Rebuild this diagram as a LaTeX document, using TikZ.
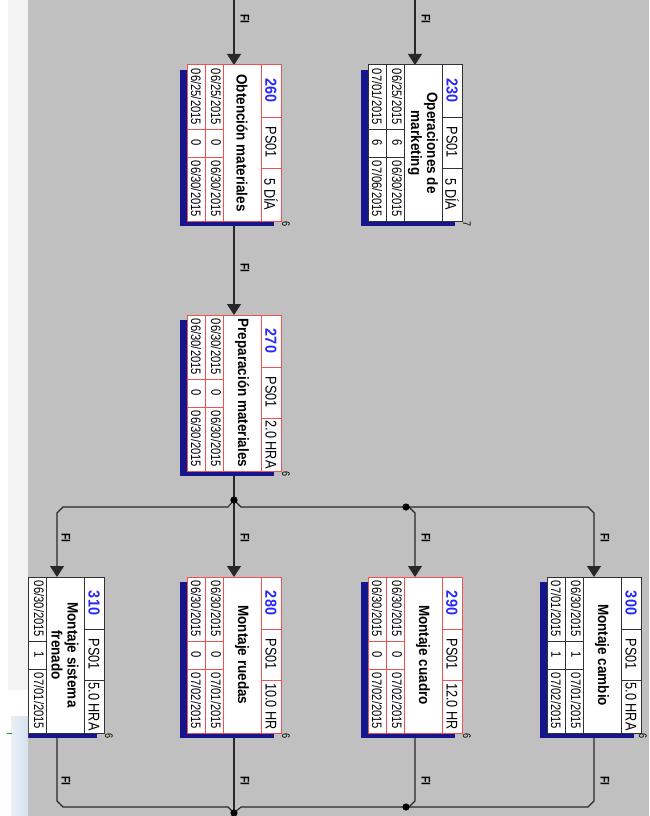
\documentclass[tikz,border=0pt]{standalone}
\usepackage{fontspec}
\setmainfont{Liberation Sans}
\newfontfamily\condA[FakeStretch=0.82]{Liberation Sans}
\newfontfamily\condB[FakeStretch=0.9]{Liberation Sans}
\usetikzlibrary{arrows.meta,calc}
\definecolor{bggray}{RGB}{192,192,192}
\definecolor{shadowc}{RGB}{22,22,140}
\definecolor{critred}{RGB}{236,84,84}
\definecolor{normgray}{RGB}{50,50,50}
\definecolor{idblue}{RGB}{40,40,250}
\definecolor{connc}{RGB}{40,40,40}
\definecolor{panelg}{RGB}{243,243,243}
\definecolor{panelb}{RGB}{212,225,238}
\tikzset{
  x=1pt, y=-1pt,
  rot/.style={rotate=-90, inner sep=0pt, outer sep=0pt, anchor=center},
  datet/.style={rot, font=\condA\fontsize{13.7}{14}\selectfont},
  idt/.style={rot, text=idblue, font=\condB\bfseries\fontsize{16}{16}\selectfont},
  hdt/.style={rot, font=\condA\fontsize{15.5}{16}\selectfont},
  namet/.style={rot, align=center, font=\condB\bfseries\fontsize{15}{16}\selectfont},
  cornt/.style={rot, font=\condA\fontsize{11}{11}\selectfont},
  fit/.style={rot, font=\condA\bfseries\fontsize{12.5}{12.5}\selectfont},
  taskframe/.style={rectangle, fill=white, line width=1pt, minimum width=94pt,
    minimum height=156pt, inner sep=0pt, outer sep=0pt},
  innerline/.style={line width=0.7pt},
  conn/.style={draw=connc, line width=1.1pt},
  arr/.style={-{Triangle[width=14pt,length=11pt]}},
}
% #1 node name, #2 cx, #3 top, #4 colour, #5 id, #6 ps, #7 dur, #8 task name, #9 corner
\newcommand\taskbox[9]{%
  \fill[shadowc] ({#2-54},{#3+5}) rectangle ({#2+40},{#3+161});
  \node[taskframe, draw=#4] (#1) at (#2,{#3+78}) {};
  \draw[innerline, draw=#4] ({#2+27},{#3}) -- ({#2+27},{#3+156});
  \draw[innerline, draw=#4] ({#2-11},{#3}) -- ({#2-11},{#3+156});
  \draw[innerline, draw=#4] ({#2-29},{#3}) -- ({#2-29},{#3+156});
  \draw[innerline, draw=#4] ({#2+27},{#3+52}) -- ({#2+47},{#3+52});
  \draw[innerline, draw=#4] ({#2+27},{#3+103}) -- ({#2+47},{#3+103});
  \draw[innerline, draw=#4] ({#2-47},{#3+64}) -- ({#2-11},{#3+64});
  \draw[innerline, draw=#4] ({#2-47},{#3+92}) -- ({#2-11},{#3+92});
  \node[idt] (#1id) at ({#2+37},{#3+26}) {#5};
  \node[hdt] (#1ps) at ({#2+37},{#3+77.5}) {#6};
  \node[hdt] (#1du) at ({#2+37},{#3+129.5}) {#7};
  \node[namet] (#1nm) at ({#2+8},{#3+78}) {#8};
  \node[cornt] (#1cn) at ({min(#2+52,643)},{#3+159}) {#9};
}
% #1 node name, #2 x, #3 top, #4 #5 #6 texts
\newcommand\taskrow[6]{%
  \node[datet] (#1a) at (#2,{#3+32}) {#4};
  \node[datet] (#1b) at (#2,{#3+78}) {#5};
  \node[datet] (#1c) at (#2,{#3+124}) {#6};
}
\begin{document}
\begin{tikzpicture}
\useasboundingbox (0,0) rectangle (649,816);
\clip (0,0) rectangle (649,816);
\fill[bggray] (0,0) rectangle (649,816);

% ---------- connectors ----------
\coordinate (in260) at (234,-2);
\coordinate (in230) at (415,-2);
\coordinate (j1) at (234,500);
\coordinate (j2) at (406,507);
\coordinate (j3) at (234,813);
\coordinate (j4) at (406,807);
\coordinate (out280) at (234,820);

\draw[conn,arr] (in260) -- (234,65);
\draw[conn,arr] (in230) -- (415,65);
\draw[conn,arr] (234,221) -- (234,315);
\draw[conn,arr] (234,471) -- (234,577);
\draw[conn,arr] (j1) -- (228,507) -- (63,507) -- (57,513) -- (57,577);
\draw[conn] (j1) -- (241,507) -- (j2);
\draw[conn,arr] (j2) -- (588,507) -- (594,513) -- (594,577);
\draw[conn,arr] (j2) -- (409,507) -- (415,513) -- (415,577);

\draw[conn] (57,733) -- (57,801) -- (63,807) -- (228,807) -- (j3);
\draw[conn] (234,733) -- (out280);
\draw[conn] (415,733) -- (415,801) -- (409,807) -- (j4);
\draw[conn] (594,733) -- (594,801) -- (588,807) -- (j4) -- (241,807) -- (j3);

\fill[black] (j1) circle (3.6);
\fill[black] (j2) circle (3.6);
\fill[black] (j3) circle (3.6);
\fill[black] (j4) circle (3.6);

\node[fit] (fi1) at (245,19) {FI};
\node[fit] (fi2) at (426,19) {FI};
\node[fit] (fi3) at (245,268) {FI};
\node[fit] (fi4) at (66,538) {FI};
\node[fit] (fi5) at (245,538) {FI};
\node[fit] (fi6) at (426,538) {FI};
\node[fit] (fi7) at (605,538) {FI};
\node[fit] (fi8) at (66,781) {FI};
\node[fit] (fi9) at (245,781) {FI};
\node[fit] (fi10) at (426,781) {FI};
\node[fit] (fi11) at (605,781) {FI};

% ---------- boxes ----------
\taskbox{b230}{415}{65}{normgray}{230}{PS01}{5 DÍA}{Operaciones de\\marketing}{7}
\taskrow{r230x}{397}{65}{06/25/2015}{6}{06/30/2015}
\taskrow{r230y}{377}{65}{07/01/2015}{6}{07/06/2015}

\taskbox{b260}{234}{65}{critred}{260}{PS01}{5 DÍA}{Obtención materiales}{6}
\taskrow{r260x}{216}{65}{06/25/2015}{0}{06/30/2015}
\taskrow{r260y}{196}{65}{06/25/2015}{0}{06/30/2015}

\taskbox{b270}{234}{315}{critred}{270}{PS01}{2.0 HRA}{Preparación materiales}{6}
\taskrow{r270x}{216}{315}{06/30/2015}{0}{06/30/2015}
\taskrow{r270y}{196}{315}{06/30/2015}{0}{06/30/2015}

\taskbox{b280}{234}{577}{critred}{280}{PS01}{10.0 HR}{Montaje ruedas}{6}
\taskrow{r280x}{216}{577}{06/30/2015}{0}{07/01/2015}
\taskrow{r280y}{196}{577}{06/30/2015}{0}{07/02/2015}

\taskbox{b290}{415}{577}{critred}{290}{PS01}{12.0 HR}{Montaje cuadro}{6}
\taskrow{r290x}{397}{577}{06/30/2015}{0}{07/02/2015}
\taskrow{r290y}{377}{577}{06/30/2015}{0}{07/02/2015}

\taskbox{b300}{594}{577}{normgray}{300}{PS01}{5.0 HRA}{Montaje cambio}{6}
\taskrow{r300x}{576}{577}{06/30/2015}{1}{07/01/2015}
\taskrow{r300y}{556}{577}{07/01/2015}{1}{07/02/2015}

\taskbox{b310}{57}{577}{normgray}{310}{PS01}{5.0 HRA}{Montaje sistema\\frenado}{6}
\taskrow{r310x}{39}{577}{06/30/2015}{1}{07/01/2015}

% ---------- left panel ----------
\fill[white] (0,0) rectangle (28,816);
\fill[panelg] (8,0) rectangle (28,690);
\shade[left color=panelb!50!white, right color=panelb] (11,716) rectangle (28,816);
\draw[green!70!black, line width=0.8pt] (7,733) -- (12,733);
\end{tikzpicture}
\end{document}
